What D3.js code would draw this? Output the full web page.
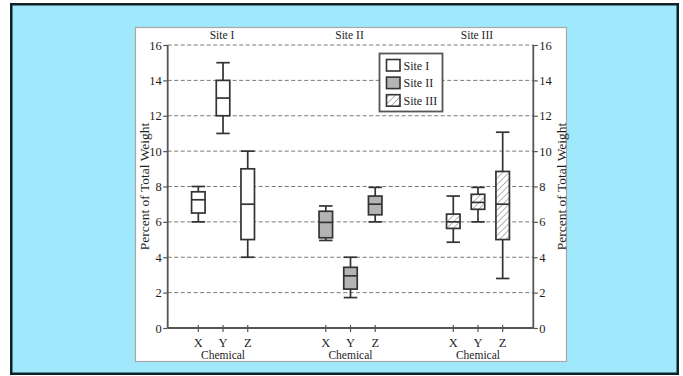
<!DOCTYPE html>
<html>
<head>
<meta charset="utf-8">
<script src="https://cdn.jsdelivr.net/npm/d3@7"></script>
<style>
  html, body { margin: 0; padding: 0; background: #ffffff; }
  svg { display: block; }
  text { font-family: "Liberation Serif", "Times New Roman", serif; fill: #1e1e1e; }
</style>
</head>
<body>
<svg id="chart" width="683" height="376"></svg>
<script>
// ---- data ----
const sites = ["Site I", "Site II", "Site III"];
const chemicals = ["X", "Y", "Z"];
const yTicks = [0, 2, 4, 6, 8, 10, 12, 14, 16];
// per site, per chemical (X, Y, Z)
const whiskerLow  = [[6.0, 11.0, 4.0], [4.95, 1.72, 6.0], [4.85, 6.0, 2.8]];
const quartile1   = [[6.5, 12.0, 5.0], [5.1, 2.2, 6.4],  [5.63, 6.71, 5.0]];
const medians     = [[7.25, 13.0, 7.0], [5.97, 2.95, 7.0], [6.0, 7.1, 7.0]];
const quartile3   = [[7.7, 14.0, 9.0], [6.6, 3.43, 7.46], [6.44, 7.56, 8.85]];
const whiskerHigh = [[8.0, 15.0, 10.0], [6.9, 4.0, 7.95], [7.46, 7.95, 11.07]];
const axisTitle = "Percent of Total Weight";
const xTitle = "Chemical";

(function () {
// ---- layout ----
const svg = d3.select("#chart");
const pL = 167.7, pR = 533.3, pT = 45, pB = 328;

// outer frame
svg.append("rect").attr("x", 11.25).attr("y", 4.25).attr("width", 666.5).attr("height", 369.5)
  .attr("fill", "#a0e8fc").attr("stroke", "#102028").attr("stroke-width", 2.5);
// white panel
svg.append("rect").attr("x", 135.5).attr("y", 27.5).attr("width", 431).attr("height", 334)
  .attr("fill", "#ffffff").attr("stroke", "#a8a8a8").attr("stroke-width", 1.2);

const defs = svg.append("defs");
const pat = defs.append("pattern").attr("id", "hatch").attr("patternUnits", "userSpaceOnUse")
  .attr("width", 4.5).attr("height", 4.5).attr("patternTransform", "rotate(45)");
pat.append("rect").attr("width", 4.5).attr("height", 4.5).attr("fill", "#ffffff");
pat.append("line").attr("x1", 0).attr("y1", 0).attr("x2", 0).attr("y2", 4.5)
  .attr("stroke", "#777").attr("stroke-width", 1.1);

const y = d3.scaleLinear().domain([0, 16]).range([pB, pT]);
const xSite = d3.scalePoint().domain(sites).range([pL, pR]).padding(0.434);
const xChem = d3.scalePoint().domain(chemicals).range([-24.7, 24.7]);

// gridlines
svg.append("g").selectAll("line").data(yTicks.filter(d => d > 0)).join("line")
  .attr("x1", pL).attr("x2", pR)
  .attr("y1", d => y(d)).attr("y2", d => y(d))
  .attr("stroke", "#7a7a7a").attr("stroke-width", 1).attr("stroke-dasharray", "4,2.5");

// left / right axes
const gL = svg.append("g").attr("transform", `translate(${pL},0)`)
  .call(d3.axisLeft(y).tickValues(yTicks).tickSize(4.5).tickPadding(1.5).tickFormat(d3.format("d")));
const gR = svg.append("g").attr("transform", `translate(${pR},0)`)
  .call(d3.axisRight(y).tickValues(yTicks).tickSize(4.5).tickPadding(1.5).tickFormat(d3.format("d")));
[gL, gR].forEach(g => {
  g.attr("font-family", "'Liberation Serif', serif").attr("font-size", 12.5);
  g.select(".domain").attr("stroke", "#555").attr("stroke-width", 1.8).attr("d", `M0,${pT}V${pB}`);
  g.selectAll(".tick line").attr("stroke", "#555").attr("stroke-width", 1.2);
  g.selectAll(".tick text").attr("fill", "#2a2a2a");
});

// bottom axis line
svg.append("line").attr("x1", pL).attr("x2", pR).attr("y1", pB).attr("y2", pB)
  .attr("stroke", "#555").attr("stroke-width", 1.8);

// category ticks and labels
const cats = [];
sites.forEach((s, si) => chemicals.forEach((c, ci) => cats.push({ s, si, c, ci })));
svg.append("g").selectAll("line").data(cats).join("line")
  .attr("x1", d => xSite(d.s) + xChem(d.c)).attr("x2", d => xSite(d.s) + xChem(d.c))
  .attr("y1", pB - 3).attr("y2", pB + 4)
  .attr("stroke", "#555").attr("stroke-width", 1.2);
svg.append("g").selectAll("text").data(cats).join("text")
  .attr("x", d => xSite(d.s) + xChem(d.c)).attr("y", 347.3)
  .attr("text-anchor", "middle").attr("font-size", 12.5).text(d => d.c);
svg.append("g").selectAll("text").data(sites).join("text")
  .attr("x", d => xSite(d)).attr("y", 359)
  .attr("text-anchor", "middle").attr("font-size", 11.5).text(xTitle);
// site titles
svg.append("g").selectAll("text").data(sites).join("text")
  .attr("x", d => xSite(d) - 1).attr("y", 39)
  .attr("text-anchor", "middle").attr("font-size", 11.5).text(d => d);

// axis titles
svg.append("text").attr("transform", `translate(148.5,186.5) rotate(-90)`)
  .attr("text-anchor", "middle").attr("font-size", 13.5).text(axisTitle);
svg.append("text").attr("transform", `translate(566,186.5) rotate(-90)`)
  .attr("text-anchor", "middle").attr("font-size", 13.5).text(axisTitle);

// boxes
const fills = ["#ffffff", "#b4b4b4", "url(#hatch)"];
const bw = 13.5;
const boxes = svg.append("g");
cats.forEach(d => {
  const cx = xSite(d.s) + xChem(d.c);
  const lo = whiskerLow[d.si][d.ci], q1 = quartile1[d.si][d.ci], md = medians[d.si][d.ci],
        q3 = quartile3[d.si][d.ci], hi = whiskerHigh[d.si][d.ci];
  const g = boxes.append("g").attr("stroke", "#333").attr("stroke-width", 1.7);
  g.append("line").attr("x1", cx).attr("x2", cx).attr("y1", y(hi)).attr("y2", y(lo));
  g.append("line").attr("x1", cx - bw / 2).attr("x2", cx + bw / 2).attr("y1", y(hi)).attr("y2", y(hi));
  g.append("line").attr("x1", cx - bw / 2).attr("x2", cx + bw / 2).attr("y1", y(lo)).attr("y2", y(lo));
  g.append("rect").attr("x", cx - bw / 2).attr("width", bw)
    .attr("y", y(q3)).attr("height", y(q1) - y(q3)).attr("fill", fills[d.si]);
  g.append("line").attr("x1", cx - bw / 2).attr("x2", cx + bw / 2).attr("y1", y(md)).attr("y2", y(md));
});

// legend
const lg = svg.append("g");
lg.append("rect").attr("x", 379.5).attr("y", 53.5).attr("width", 63).attr("height", 58)
  .attr("fill", "#ffffff").attr("stroke", "#555").attr("stroke-width", 1.8);
sites.forEach((s, i) => {
  const yy = 59.5 + i * 17.6;
  lg.append("rect").attr("x", 386.5).attr("y", yy).attr("width", 13.5).attr("height", 11.5)
    .attr("fill", fills[i]).attr("stroke", "#333").attr("stroke-width", 1.6);
  lg.append("text").attr("x", 403.5).attr("y", yy + 10).attr("font-size", 12).text(s);
});
})();
</script>
</body>
</html>
